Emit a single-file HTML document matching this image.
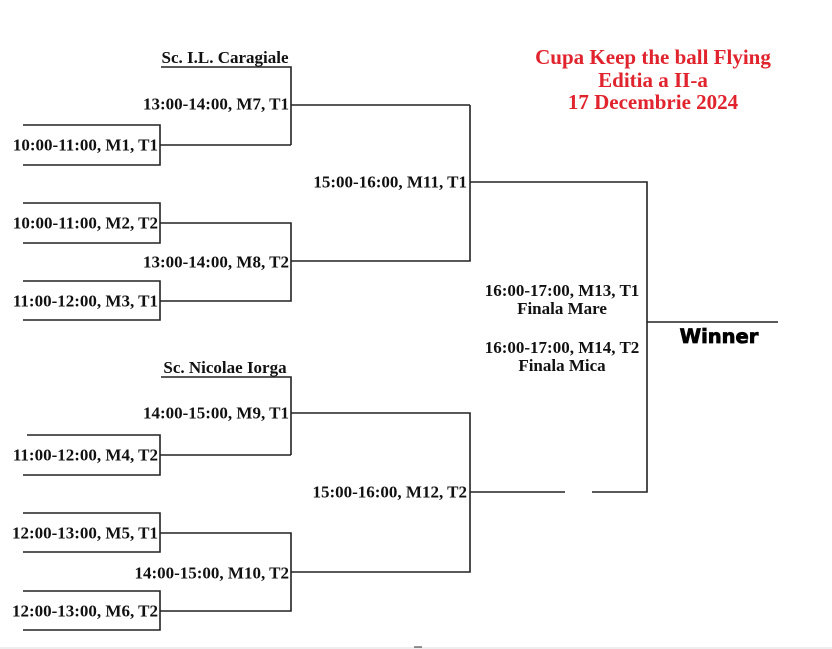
<!DOCTYPE html>
<html><head><meta charset="utf-8"><style>
body{margin:0;background:#fff;}
svg{display:block}
text{font-family:"Liberation Serif",serif;font-weight:bold;font-size:17px;fill:#111;}
text.t{fill:#e0232d;font-size:21px;}
text.w{font-family:"DejaVu Sans",sans-serif;font-weight:900;font-size:19.5px;stroke:#000;stroke-width:0.8;fill:#000}
</style></head><body>
<svg width="832" height="649" viewBox="0 0 832 649" xmlns="http://www.w3.org/2000/svg">
<g stroke="#222" stroke-width="1.6" fill="none">
<path d="M161 67H291V145"/>
<path d="M23 125H160V165H23"/>
<path d="M160 145H291"/>
<path d="M291 105H470"/>
<path d="M23 203H160V243H23"/>
<path d="M160 223H291V301H160"/>
<path d="M23 281H160V320H23"/>
<path d="M291 261H470V105"/>
<path d="M470 182H647V492H592"/>
<path d="M565 492H470"/>
<path d="M647 322H778"/>
<path d="M161 377H291V455"/>
<path d="M27 435H160V475H23"/>
<path d="M160 455H291"/>
<path d="M291 413H470V572H291"/>
<path d="M23 513H160V552H23"/>
<path d="M160 533H291V611H160"/>
<path d="M23 591H160V630H23"/>
</g>
<line x1="0" y1="648" x2="832" y2="648" stroke="#ddd" stroke-width="1"/>
<line x1="414" y1="647" x2="422" y2="647" stroke="#333" stroke-width="1"/>
<g text-anchor="end" dominant-baseline="central">
<text x="158" y="145">10:00-11:00, M1, T1</text>
<text x="158" y="223">10:00-11:00, M2, T2</text>
<text x="158" y="301">11:00-12:00, M3, T1</text>
<text x="158" y="455">11:00-12:00, M4, T2</text>
<text x="158" y="533">12:00-13:00, M5, T1</text>
<text x="158" y="611">12:00-13:00, M6, T2</text>
<text x="289" y="104">13:00-14:00, M7, T1</text>
<text x="289" y="262">13:00-14:00, M8, T2</text>
<text x="289" y="413">14:00-15:00, M9, T1</text>
<text x="289" y="573">14:00-15:00, M10, T2</text>
<text x="467" y="182">15:00-16:00, M11, T1</text>
<text x="467" y="492">15:00-16:00, M12, T2</text>
</g>
<text x="225" y="63" text-anchor="middle">Sc. I.L. Caragiale</text>
<text x="225" y="373" text-anchor="middle">Sc. Nicolae Iorga</text>
<g text-anchor="middle">
<text x="562" y="296">16:00-17:00, M13, T1</text>
<text x="562" y="314">Finala Mare</text>
<text x="562" y="353">16:00-17:00, M14, T2</text>
<text x="562" y="371">Finala Mica</text>
</g>
<text class="w" x="719" y="343" text-anchor="middle">Winner</text>
<g text-anchor="middle">
<text class="t" x="653" y="64">Cupa Keep the ball Flying</text>
<text class="t" x="653" y="87">Editia a II-a</text>
<text class="t" x="653" y="109">17 Decembrie 2024</text>
</g>
</svg>
</body></html>
